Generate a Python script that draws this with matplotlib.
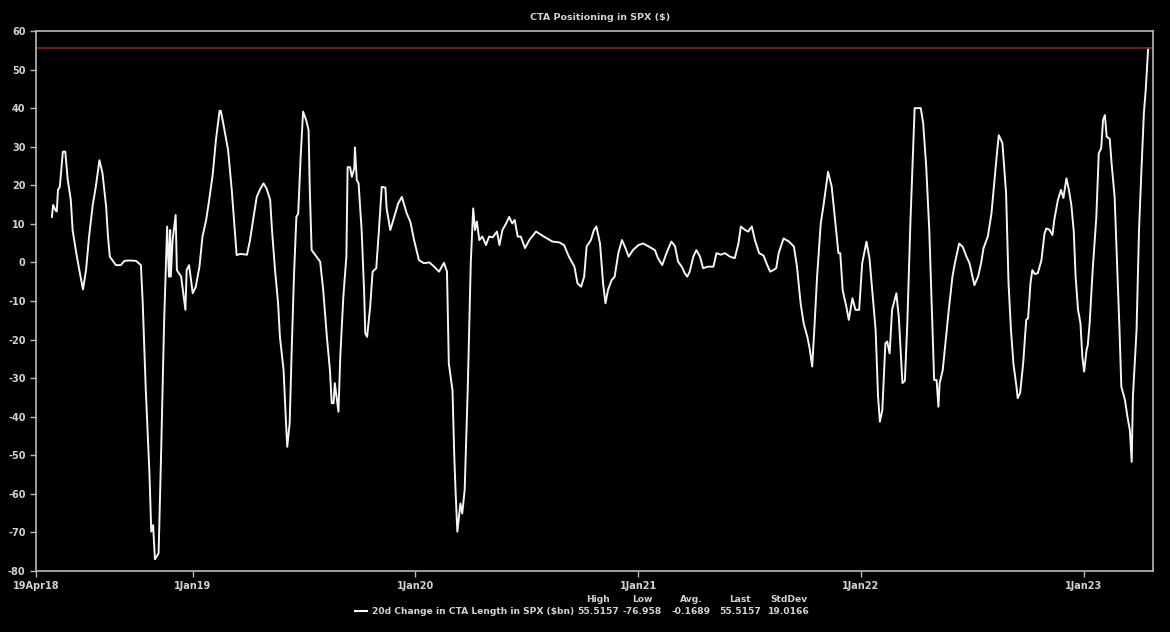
import pandas as pd
import numpy as np
import matplotlib
matplotlib.use('Agg')
import matplotlib.pyplot as plt
import matplotlib.dates as mdates
from matplotlib.lines import Line2D

# series start and days elapsed since 19Apr18 for each reading
start = pd.Timestamp('2018-04-19')
days = [26, 28, 32, 34, 36, 39, 44, 48, 52, 57, 60, 66, 71, 77, 82, 87, 93, 98, 104, 109,
        115, 118, 121, 131, 139, 145, 153, 164, 172, 175, 180, 186, 189, 192, 195, 201, 205, 210, 215, 218,
        220, 221, 224, 229, 231, 238, 245, 247, 251, 257, 262, 268, 273, 279, 284, 290, 295, 301, 303, 307,
        315, 321, 326, 329, 335, 346, 351, 356, 362, 367, 373, 378, 384, 387, 392, 397, 400, 406, 410, 412,
        416, 419, 423, 427, 430, 434, 438, 443, 447, 449, 452, 458, 466, 471, 477, 482, 485, 488, 490, 496,
        499, 504, 509, 511, 515, 518, 522, 523, 526, 529, 534, 538, 540, 543, 548, 552, 558, 562, 567, 573,
        575, 581, 586, 594, 600, 608, 614, 620, 628, 636, 645, 653, 661, 669, 674, 677, 683, 686, 688, 691,
        696, 699, 703, 708, 713, 717, 720, 723, 727, 732, 738, 743, 749, 756, 760, 765, 771, 776, 781, 785,
        790, 795, 802, 809, 820, 833, 847, 858, 866, 874, 883, 888, 894, 899, 903, 910, 915, 919, 925, 930,
        934, 938, 944, 949, 955, 961, 967, 972, 979, 988, 996, 1004, 1015, 1020, 1027, 1034, 1042, 1048, 1053, 1059,
        1064, 1068, 1072, 1078, 1083, 1089, 1094, 1102, 1111, 1116, 1123, 1130, 1138, 1146, 1152, 1156, 1163, 1168, 1174, 1179,
        1186, 1193, 1198, 1204, 1209, 1214, 1218, 1226, 1235, 1243, 1248, 1254, 1259, 1265, 1269, 1273, 1277, 1281, 1287, 1292,
        1299, 1305, 1310, 1316, 1319, 1323, 1329, 1333, 1339, 1344, 1350, 1355, 1362, 1367, 1371, 1377, 1381, 1384, 1388, 1393,
        1396, 1400, 1404, 1411, 1415, 1421, 1425, 1429, 1434, 1438, 1441, 1451, 1455, 1460, 1465, 1469, 1473, 1477, 1480, 1482,
        1487, 1492, 1497, 1503, 1507, 1514, 1520, 1526, 1531, 1539, 1545, 1550, 1554, 1561, 1567, 1572, 1576, 1579, 1585, 1591,
        1595, 1599, 1603, 1608, 1610, 1614, 1619, 1624, 1627, 1631, 1634, 1638, 1643, 1649, 1654, 1657, 1662, 1667, 1670, 1676,
        1681, 1685, 1690, 1694, 1698, 1702, 1705, 1709, 1713, 1716, 1719, 1723, 1725, 1728, 1733, 1739, 1743, 1747, 1750, 1753,
        1756, 1761, 1764, 1769, 1773, 1777, 1780, 1786, 1790, 1794, 1797, 1799, 1805, 1809, 1813, 1817, 1820, 1824]

change_bn = [11.8, 14.9, 13.5, 13.2, 18.8, 19.6, 28.7, 28.7, 21.4, 16.2, 8.4, 2.4, -2.0, -7.0, -2.0, 6.7, 14.9, 19.6, 26.5, 23.1,
             14.4, 6.7, 1.5, -0.7, -0.7, 0.4, 0.5, 0.4, -0.7, -10.6, -33.1, -54.7, -69.8, -68.1, -76.96, -75.4, -50.4, -15.8, 9.3, -3.7,
             8.4, -3.7, 5.8, 12.3, -2.0, -3.7, -12.3, -2.0, -0.7, -8.0, -6.3, -1.1, 6.7, 11.0, 16.2, 23.1, 31.7, 39.3, 39.3, 36.1,
             29.1, 18.8, 8.4, 1.9, 2.2, 2.0, 5.8, 11.0, 17.0, 18.8, 20.5, 19.2, 16.2, 8.4, -2.0, -10.6, -19.3, -27.9, -41.7, -47.8,
             -41.7, -24.4, -3.7, 11.8, 12.7, 27.4, 39.1, 36.9, 34.3, 18.8, 3.2, 1.9, 0.2, -7.2, -19.3, -27.9, -36.5, -36.5, -31.3, -38.7,
             -24.4, -8.9, 1.5, 24.7, 24.7, 22.2, 24.4, 29.8, 21.4, 20.5, 8.4, -7.2, -18.4, -19.3, -11.5, -2.4, -1.5, 7.5, 19.6, 19.4,
             14.0, 8.4, 11.0, 15.3, 17.0, 12.7, 10.5, 5.8, 0.6, -0.2, 0.0, -1.1, -2.4, -0.1, -2.4, -26.2, -33.1, -50.4, -59.0, -69.8,
             -62.5, -65.1, -59.0, -33.1, -0.2, 14.0, 8.4, 10.6, 5.8, 6.7, 4.5, 6.7, 6.5, 8.0, 4.5, 8.4, 10.1, 11.8, 10.1, 11.0,
             6.7, 6.7, 3.7, 5.8, 8.0, 6.7, 5.4, 5.2, 4.5, 1.5, -1.1, -5.4, -6.3, -3.7, 4.1, 5.8, 8.4, 9.3, 4.9, -5.4,
             -10.6, -7.2, -4.6, -3.7, 2.4, 5.8, 3.6, 1.5, 3.2, 4.5, 4.9, 4.2, 3.2, 1.1, -0.7, 2.4, 5.4, 4.2, 0.2, -1.1,
             -2.8, -3.7, -2.4, 1.5, 3.2, 1.5, -1.5, -1.1, -1.1, 2.4, 2.0, 2.4, 1.5, 1.1, 4.9, 9.3, 8.4, 8.0, 9.3, 5.8,
             2.4, 1.8, -0.2, -2.4, -2.0, -1.5, 2.4, 6.2, 5.4, 4.1, -1.1, -10.6, -15.8, -19.3, -22.5, -27.0, -15.8, -3.7, 10.1, 15.3,
             23.5, 19.6, 11.8, 2.4, 2.4, -7.2, -11.5, -14.9, -9.3, -12.3, -12.3, -0.2, 5.4, 1.0, -6.3, -17.5, -34.8, -41.3, -38.3, -21.0,
             -20.5, -23.6, -12.3, -8.0, -14.1, -31.3, -30.7, -15.8, 10.1, 27.4, 40.0, 40.0, 36.1, 24.8, 8.4, -11.5, -30.5, -30.5, -37.4, -31.3,
             -28.0, -20.1, -12.3, -3.7, -0.2, 4.9, 4.0, 1.5, -0.2, -5.9, -3.7, -0.2, 3.7, 6.7, 12.7, 21.4, 28.3, 33.0, 30.9, 17.9,
             -5.4, -17.5, -26.2, -32.2, -35.2, -33.8, -26.2, -14.9, -14.5, -5.4, -2.0, -3.0, -2.8, 0.6, 7.5, 8.8, 8.5, 7.1, 11.0, 16.2,
             18.8, 16.7, 21.8, 18.8, 14.9, 8.0, -3.7, -12.3, -15.8, -24.4, -28.3, -22.7, -21.4, -15.8, -2.0, 11.8, 28.3, 29.6, 36.9, 38.2,
             32.6, 32.0, 25.7, 17.0, -0.2, -17.5, -32.2, -35.7, -40.0, -43.5, -51.7, -34.8, -17.5, 8.4, 24.0, 38.7, 44.7, 55.5157]

stat_names = ['High', 'Low', 'Avg.', 'Last', 'StdDev']
stat_values = ['55.5157', '-76.958', '-0.1689', '55.5157', '19.0166']
high_level = 55.5157

tick_dates = ['2018-04-19', '2019-01-01', '2020-01-01', '2021-01-01', '2022-01-01', '2023-01-01']
tick_labels = ['19Apr18', '1Jan19', '1Jan20', '1Jan21', '1Jan22', '1Jan23']

dates = start + pd.to_timedelta(days, unit='D')

txt = '#d2d2d2'
plt.rcParams['font.family'] = ['DejaVu Sans']
plt.rcParams['axes.unicode_minus'] = False

fig = plt.figure(figsize=(11.7, 6.32), dpi=100, facecolor='black')
ax = fig.add_axes([0.0308, 0.0965, 0.9547, 0.8545], facecolor='black')

ax.plot(dates, change_bn, color='#f4f4f4', lw=1.4)
ax.axhline(high_level, color='#8e1b1b', lw=1.2)

ax.set_ylim(-80, 60)
ax.set_yticks(np.arange(-80, 61, 10))
ax.set_xlim(start, start + pd.Timedelta(days=1832))
ax.set_xticks(pd.to_datetime(tick_dates))
ax.set_xticklabels(tick_labels)

for s in ax.spines.values():
    s.set_color('#b8b8b8')
    s.set_linewidth(1.2)
ax.tick_params(colors='#b8b8b8', labelcolor=txt, labelsize=7, length=4, width=1)
for lab in ax.get_xticklabels() + ax.get_yticklabels():
    lab.set_fontweight('bold')

fig.text(0.513, 0.973, 'CTA Positioning in SPX ($)', color=txt, fontsize=6.8,
         fontweight='bold', ha='center', va='center')

# legend row with statistics
fig.add_artist(Line2D([355 / 1170, 367 / 1170], [1 - 611 / 632] * 2, color='white', lw=1.5))
fig.text(372 / 1170, 1 - 612 / 632, '20d Change in CTA Length in SPX ($bn)', color=txt,
         fontsize=6.6, fontweight='bold', ha='left', va='center')
stat_x = [598, 642, 691, 740, 789]
for name, val, xp in zip(stat_names, stat_values, stat_x):
    fig.text(xp / 1170, 1 - 599 / 632, name, color=txt, fontsize=6.6, fontweight='bold',
             ha='center', va='center')
    fig.text(xp / 1170, 1 - 612 / 632, val, color=txt, fontsize=6.6, fontweight='bold',
             ha='center', va='center')

fig.savefig('out.png', dpi=100, facecolor='black')
